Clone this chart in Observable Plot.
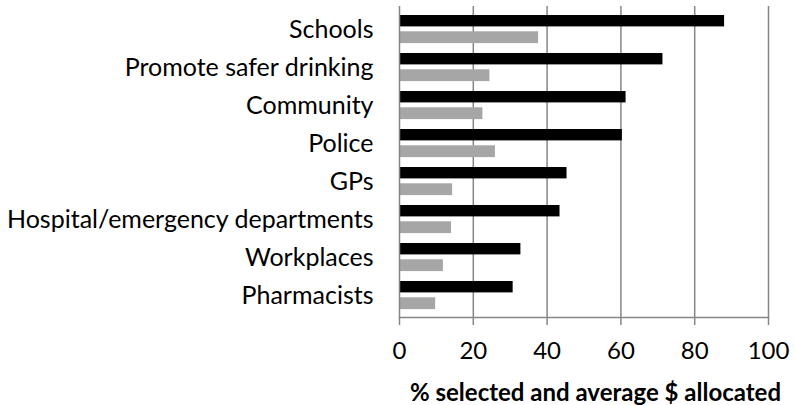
<!DOCTYPE html>
<html>
<head>
<meta charset="utf-8">
<script src="https://cdn.jsdelivr.net/npm/d3@7"></script>
<script src="https://cdn.jsdelivr.net/npm/@observablehq/plot@0.6"></script>
<style>
  html, body { margin: 0; padding: 0; background: #fff; }
  #chart { width: 795px; height: 405px; position: relative; overflow: hidden; }
  #caption { font-family: Lato, "Open Sans", sans-serif; font-weight: bold; font-size: 24px; line-height: 24px;
             margin-top: 10px; padding-left: 410px; white-space: nowrap; color: #000; }
</style>
</head>
<body>
<div id="chart"></div>
<script>
const categories = ["Schools", "Promote safer drinking", "Community", "Police", "GPs",
  "Hospital/emergency departments", "Workplaces", "Pharmacists"];
const pctSelected = [88.1, 71.4, 61.4, 60.4, 45.4, 43.5, 32.9, 30.8];
const avgAllocated = [37.7, 24.5, 22.6, 26.0, 14.4, 14.1, 11.9, 9.8];
const xTicks = [0, 20, 40, 60, 80, 100];
const xLabel = "% selected and average $ allocated";

const selData = categories.map((c, i) => ({category: c, value: pctSelected[i]}));
const allocData = categories.map((c, i) => ({category: c, value: avgAllocated[i]}));

const gridColor = "#868686";

const plot = Plot.plot({
  width: 795,
  height: 370,
  marginLeft: 399,
  marginRight: 27,
  marginTop: 6,
  marginBottom: 53,
  style: {fontFamily: "Lato, 'Open Sans', sans-serif", fontSize: "25px", color: "#000", background: "#fff"},
  x: {domain: [0, 100]},
  y: {domain: categories, padding: 0},
  marks: [
    Plot.gridX(xTicks.filter(d => d > 0), {stroke: gridColor, strokeOpacity: 1, strokeWidth: 1.5}),
    Plot.barX(selData, {x: "value", y: "category", fill: "#000", insetTop: 5, insetBottom: 21.6}),
    Plot.barX(allocData, {x: "value", y: "category", fill: "#a6a6a6", insetTop: 21.3, insetBottom: 4.9}),
    Plot.ruleX([0], {stroke: gridColor, strokeWidth: 1.5}),
    Plot.frame({anchor: "bottom", stroke: gridColor, strokeWidth: 1.5}),
    Plot.axisX({ticks: xTicks, tickSize: 8, tickPadding: 16, stroke: gridColor, strokeWidth: 1.5, label: null, fontSize: 24, fill: "#000"}),
    Plot.axisY({tickSize: 0, tickPadding: 26, label: null, fontSize: 25, fill: "#000"})
  ]
});
const chart = document.getElementById("chart");
chart.appendChild(plot);
const cap = document.createElement("div");
cap.id = "caption";
cap.textContent = xLabel;
chart.appendChild(cap);
</script>
</body>
</html>
